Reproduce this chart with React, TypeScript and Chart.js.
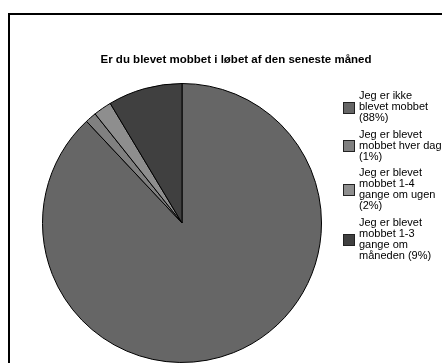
import React, { useEffect, useRef } from "react";
import { Chart, registerables } from "chart.js";

Chart.register(...registerables);

const TITLE = "Er du blevet mobbet i løbet af den seneste måned";
const categories: string[][] = [
  ["Jeg er ikke", "blevet mobbet", "(88%)"],
  ["Jeg er blevet", "mobbet hver dag", "(1%)"],
  ["Jeg er blevet", "mobbet 1-4", "gange om ugen", "(2%)"],
  ["Jeg er blevet", "mobbet 1-3", "gange om", "måneden (9%)"],
];
const values = [88.0, 1.3, 2.1, 8.6];
const colors = ["#666666", "#808080", "#8e8e8e", "#404040"];

const FONT = "Arial, 'Liberation Sans', Helvetica, sans-serif";

const framePlugin = {
  id: "frame",
  beforeDraw(chart: any) {
    const ctx = chart.ctx as CanvasRenderingContext2D;
    ctx.save();
    ctx.fillStyle = "#ffffff";
    ctx.fillRect(0, 0, chart.width, chart.height);
    ctx.strokeStyle = "#000000";
    ctx.lineWidth = 2;
    ctx.strokeRect(9, 14, chart.width + 40, chart.height + 40);
    ctx.font = `bold 11.5px ${FONT}`;
    ctx.fillStyle = "#000000";
    ctx.textAlign = "center";
    ctx.textBaseline = "alphabetic";
    ctx.fillText(TITLE, 236, 63);
    ctx.restore();
  },
  afterDraw(chart: any) {
    const ctx = chart.ctx as CanvasRenderingContext2D;
    ctx.save();
    ctx.font = `11px ${FONT}`;
    ctx.textAlign = "left";
    ctx.textBaseline = "alphabetic";
    const lineH = 11;
    const gap = 5.5;
    let y = 99;
    categories.forEach((lines, i) => {
      const capTop = y - 8;
      const lastBase = y + (lines.length - 1) * lineH;
      const center = (capTop + lastBase) / 2 + 1;
      const bx = 343.5;
      const by = Math.round(center - 5.5) + 0.5;
      ctx.fillStyle = colors[i];
      ctx.fillRect(bx, by, 11, 11);
      ctx.strokeStyle = "#222222";
      ctx.lineWidth = 1;
      ctx.strokeRect(bx, by, 11, 11);
      ctx.fillStyle = "#000000";
      lines.forEach((t, j) => ctx.fillText(t, 359, y + j * lineH));
      y += lines.length * lineH + gap;
    });
    ctx.restore();
  },
};

export default function App() {
  const ref = useRef<HTMLCanvasElement | null>(null);
  useEffect(() => {
    if (!ref.current) return;
    const chart = new Chart(ref.current, {
      type: "pie",
      data: {
        labels: categories.map((l) => l.join(" ")),
        datasets: [
          {
            data: values,
            backgroundColor: colors,
            borderColor: "#000000",
            borderWidth: 1,
          },
        ],
      },
      options: {
        responsive: false,
        animation: false,
        devicePixelRatio: 1,
        layout: { padding: { left: 42, right: 120, top: 83, bottom: 0 } },
        plugins: {
          legend: { display: false },
          tooltip: { enabled: false },
          title: { display: false },
        },
      },
      plugins: [framePlugin],
    });
    return () => chart.destroy();
  }, []);
  return (
    <div style={{ position: "absolute", left: 0, top: 0, width: 442, height: 363 }}>
      <canvas ref={ref} width={442} height={363} style={{ display: "block" }} />
    </div>
  );
}
